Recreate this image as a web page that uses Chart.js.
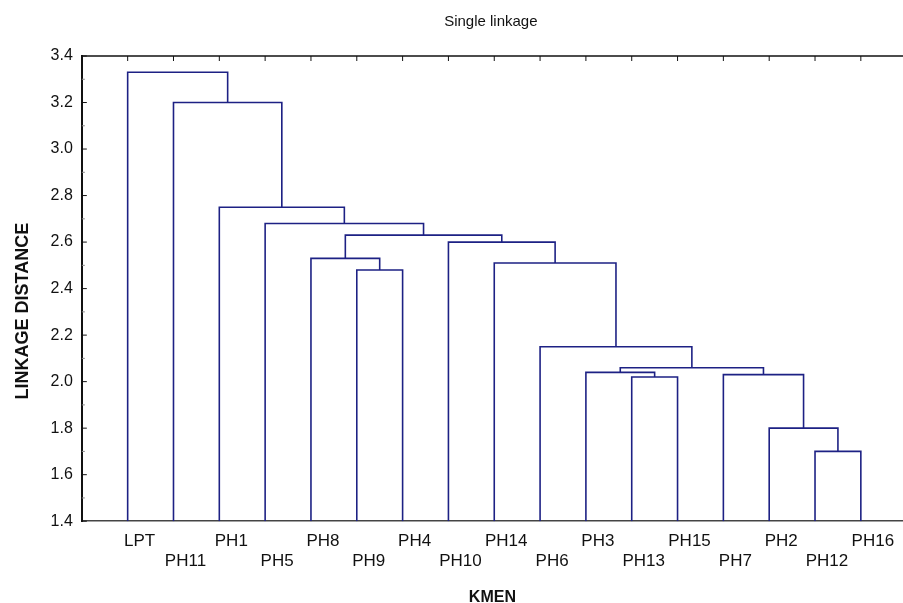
<!DOCTYPE html>
<html>
<head>
<meta charset="utf-8">
<script src="https://cdn.jsdelivr.net/npm/chart.js@4"></script>
<style>
  html, body { margin: 0; padding: 0; background: #ffffff; }
  #wrap { width: 903px; height: 603px; }
</style>
</head>
<body>
<div id="wrap"><canvas id="c" width="903" height="603"></canvas></div>
<script>
// ---- Data ----
const leaves = ['LPT','PH11','PH1','PH5','PH8','PH9','PH4','PH10','PH14','PH6','PH3','PH13','PH15','PH7','PH2','PH12','PH16'];
// linkage: node ids 0..16 are leaves, 17+ are merged clusters (in order)
const mergeLeft   = [15, 14, 11, 13, 10, 21,  9,  5,  8,  4,  7, 26,  3,  2,  1,  0];
const mergeRight  = [16, 17, 12, 18, 19, 20, 22,  6, 23, 24, 25, 27, 28, 29, 30, 31];
const mergeHeight = [1.70, 1.80, 2.02, 2.03, 2.04, 2.06, 2.15, 2.48, 2.51, 2.53, 2.60, 2.63, 2.68, 2.75, 3.20, 3.33];
const yMin = 1.4, yMax = 3.4, yStep = 0.2;

// ---- Build dendrogram segments from linkage ----
const nodeX = leaves.map((_, i) => i + 1);
const nodeH = leaves.map(() => yMin);
const datasets = [];
const lineColor = '#1d2184';
for (let k = 0; k < mergeHeight.length; k++) {
  const a = mergeLeft[k], b = mergeRight[k], h = mergeHeight[k];
  const xa = nodeX[a], xb = nodeX[b];
  datasets.push({
    data: [{x: xa, y: nodeH[a]}, {x: xa, y: h}, {x: xb, y: h}, {x: xb, y: nodeH[b]}],
    borderColor: lineColor,
    borderWidth: 1.6,
    pointRadius: 0,
    showLine: true,
    fill: false,
    tension: 0
  });
  nodeX.push((xa + xb) / 2);
  nodeH.push(h);
}

const FONT = "'Liberation Sans', Arial, sans-serif";

// Frame details: top border with inward ticks, inward y ticks
const framePlugin = {
  id: 'frame',
  afterDraw(chart) {
    const {ctx, chartArea: ca, scales} = chart;
    ctx.save();
    ctx.strokeStyle = '#111';
    ctx.lineWidth = 1.6;
    ctx.beginPath();
    ctx.moveTo(ca.left, ca.top);
    ctx.lineTo(ca.right, ca.top);
    ctx.stroke();
    ctx.lineWidth = 1;
    ctx.beginPath();
    leaves.forEach((_, i) => {
      const px = scales.x.getPixelForValue(i + 1);
      ctx.moveTo(px, ca.top);
      ctx.lineTo(px, ca.top + 5);
    });
    for (let v = yMin; v <= yMax + 1e-9; v += yStep) {
      const py = scales.y.getPixelForValue(v);
      ctx.moveTo(ca.left, py);
      ctx.lineTo(ca.left + 5, py);
    }
    ctx.stroke();
    ctx.strokeStyle = '#888';
    ctx.beginPath();
    for (let v = yMin + yStep / 2; v < yMax; v += yStep) {
      const py = scales.y.getPixelForValue(v);
      ctx.moveTo(ca.left, py);
      ctx.lineTo(ca.left + 3, py);
    }
    ctx.stroke();
    ctx.restore();
  }
};

new Chart(document.getElementById('c'), {
  type: 'scatter',
  data: { datasets },
  options: {
    responsive: false,
    animation: false,
    events: [],
    layout: { padding: { left: 12, right: 0, top: 0, bottom: 0 } },
    plugins: {
      legend: { display: false },
      tooltip: { enabled: false },
      title: {
        display: true,
        text: '\u00A0'.repeat(16) + 'Single linkage',
        color: '#111',
        font: { family: FONT, size: 15, weight: 'normal', lineHeight: 1.2 },
        padding: { top: 13, bottom: 25 }
      }
    },
    scales: {
      x: {
        type: 'linear',
        position: 'bottom',
        min: 0,
        max: 17.92,
        afterBuildTicks(scale) {
          scale.ticks = leaves.map((_, i) => ({ value: i + 1 }));
        },
        grid: { display: true, drawOnChartArea: false, drawTicks: false },
        border: { display: true, color: '#444', width: 1.5 },
        ticks: {
          autoSkip: false,
          maxRotation: 0,
          minRotation: 0,
          padding: 10,
          labelOffset: 12,
          color: '#111',
          font: { family: FONT, size: 17, lineHeight: 1.2 },
          callback: (v) => {
            const i = Math.round(v) - 1;
            const name = leaves[i];
            if (name === undefined) return '';
            return i % 2 === 0 ? name : ['', name];
          }
        },
        title: {
          display: true,
          text: 'KMEN',
          color: '#111',
          font: { family: FONT, size: 16, weight: 'bold', lineHeight: 1.0 },
          padding: { top: 8, bottom: -3 }
        }
      },
      y: {
        type: 'linear',
        min: yMin,
        max: yMax,
        grid: { display: true, drawOnChartArea: false, drawTicks: false },
        border: { display: true, color: '#111', width: 2 },
        ticks: {
          stepSize: yStep,
          padding: 9,
          color: '#111',
          font: { family: FONT, size: 16 },
          callback: (v) => Number(v).toFixed(1)
        },
        title: {
          display: true,
          text: 'LINKAGE DISTANCE' + '\u00A0'.repeat(9),
          color: '#111',
          font: { family: FONT, size: 18, weight: 'bold', lineHeight: 1.2 },
          padding: { top: 0, bottom: 8 }
        }
      }
    }
  },
  plugins: [framePlugin]
});
</script>
</body>
</html>
